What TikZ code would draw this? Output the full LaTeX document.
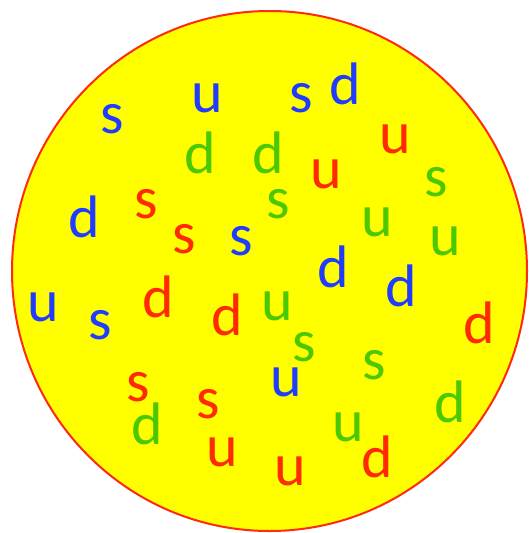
\documentclass[tikz,border=0pt]{standalone}
\usepackage{fontspec}
\setmainfont{Carlito}
\usetikzlibrary{shapes.geometric}
\definecolor{qblue}{HTML}{1F3CFF}
\definecolor{qred}{HTML}{FF2A00}
\definecolor{qgreen}{HTML}{4CC800}
\definecolor{bag}{HTML}{FFFF00}
\definecolor{rim}{HTML}{FF2A10}
\tikzset{
  ltr/.style={inner sep=0pt, anchor=base, font=\fontsize{60}{60}\selectfont},
  qb/.style={ltr, text=qblue},
  qr/.style={ltr, text=qred},
  qg/.style={ltr, text=qgreen}
}
\begin{document}
\begin{tikzpicture}[x=1pt,y=-1pt]
\useasboundingbox (0,0) rectangle (529,533);
\node[draw=rim, fill=bag, line width=2pt, ellipse, minimum width=515pt, minimum height=520pt, inner sep=0pt] (bagnode) at (269.5,271) {};
% top area
\node[qb] (l1) at (112.5,133) {s};
\node[qb] (l2) at (207.5,112) {u};
\node[qb] (l3) at (301,112) {s};
\node[qb] (l4) at (345,104) {d};
\node[qr] (l5) at (395,153) {u};
\node[qg] (l6) at (200,173) {d};
\node[qg] (l7) at (268,173) {d};
\node[qr] (l8) at (326,188) {u};
\node[qg] (l9) at (436,196) {s};
\node[qb] (l10) at (84,237) {d};
\node[qr] (l11) at (146,218) {s};
\node[qg] (l12) at (278,218) {s};
\node[qg] (l13) at (377,236) {u};
\node[qr] (l14) at (184,253) {s};
\node[qb] (l15) at (241,255) {s};
\node[qg] (l16) at (445,255) {u};
% middle
\node[qb] (l17) at (333,287) {d};
\node[qb] (l18) at (401,306) {d};
\node[qb] (l19) at (43,321) {u};
\node[qb] (l20) at (100,339) {s};
\node[qr] (l21) at (158,317) {d};
\node[qr] (l22) at (227,335) {d};
\node[qg] (l23) at (277,320) {u};
\node[qg] (l24) at (304,361) {s};
\node[qr] (l25) at (479,343) {d};
\node[qg] (l26) at (374,379) {s};
\node[qb] (l27) at (286,396) {u};
% bottom
\node[qr] (l28) at (138,401) {s};
\node[qg] (l29) at (147,444) {d};
\node[qr] (l30) at (208,418) {s};
\node[qg] (l31) at (450,422) {d};
\node[qg] (l32) at (348,441) {u};
\node[qr] (l33) at (222,466) {u};
\node[qr] (l34) at (290,485) {u};
\node[qr] (l35) at (377,477) {d};
\end{tikzpicture}
\end{document}
